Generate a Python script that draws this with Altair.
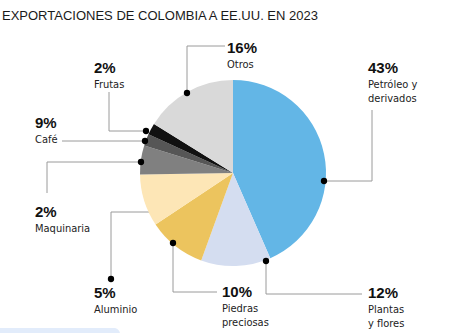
import altair as alt
import pandas as pd

W, H = 455, 333
NARROW = "DejaVu Sans Condensed, Liberation Sans Narrow, Liberation Sans"
REG = "Liberation Sans, Arial, sans-serif"

title_text = "EXPORTACIONES DE COLOMBIA A EE.UU. EN 2023"

# slices clockwise from 12 o'clock (shares)
slice_keys = ["petroleo", "plantas", "piedras", "crema", "gris", "gris_osc", "negro", "otros"]
slice_shares = [43, 12, 10, 9, 5, 2, 2, 16]
slice_colors = ["#63b6e6", "#d4ddf0", "#ecc45e", "#fde6b6", "#808080", "#565656", "#111111", "#d9d9d9"]

# labels
label_pct = ["16%", "43%", "12%", "10%", "5%", "2%", "9%", "2%"]
label_names = [["Otros"], ["Petróleo y", "derivados"], ["Plantas", "y flores"],
               ["Piedras", "preciosas"], ["Aluminio"], ["Maquinaria"], ["Café"], ["Frutas"]]

# layout (pixel-space annotation coordinates)
label_x = [227, 368, 368, 222, 94, 35, 35, 94]
label_y = [53, 73, 298, 297, 298, 217, 128, 73]
dot_x = [187, 324, 266, 173, 111, 141, 145, 146]
dot_y = [93, 181, 261, 243, 279, 162, 141, 131]
seg_x1 = [187, 187, 324, 372, 266, 266, 173, 173, 111, 111, 47, 47, 62, 109, 109]
seg_y1 = [93, 46, 181, 181, 261, 294, 243, 292, 279, 212, 193, 162, 141, 92, 131]
seg_x2 = [187, 225, 372, 372, 266, 362, 173, 217, 111, 150, 47, 141, 145, 109, 146]
seg_y2 = [46, 46, 181, 110, 294, 294, 292, 292, 212, 212, 162, 162, 141, 131, 131]
CX, CY, R = 233, 173, 93

xs = alt.Scale(domain=[0, W], nice=False, zero=False)
ys = alt.Scale(domain=[0, H], nice=False, zero=False, reverse=True)

pie_df = pd.DataFrame({"key": slice_keys, "share": slice_shares, "idx": list(range(len(slice_keys)))})
pie = alt.Chart(pie_df).mark_arc(outerRadius=R, stroke=None).encode(
    theta=alt.Theta("share:Q", stack=True),
    order=alt.Order("idx:Q"),
    color=alt.Color("key:N", scale=alt.Scale(domain=slice_keys, range=slice_colors), legend=None),
    x=alt.value(CX), y=alt.value(CY),
)

seg_df = pd.DataFrame({"x": seg_x1, "y": seg_y1, "x2": seg_x2, "y2": seg_y2})
rules = alt.Chart(seg_df).mark_rule(color="#9a9a9a", strokeWidth=1).encode(
    x=alt.X("x:Q", scale=xs, axis=None), y=alt.Y("y:Q", scale=ys, axis=None),
    x2="x2:Q", y2="y2:Q")

dot_df = pd.DataFrame({"x": dot_x, "y": dot_y})
dots = alt.Chart(dot_df).mark_circle(color="#000000", opacity=1, size=40).encode(
    x=alt.X("x:Q", scale=xs, axis=None), y=alt.Y("y:Q", scale=ys, axis=None))

pct_df = pd.DataFrame({"x": label_x, "y": label_y, "t": label_pct})
pct = alt.Chart(pct_df).mark_text(align="left", baseline="alphabetic", font=REG,
                                  fontWeight="bold", fontSize=15, color="#111111").encode(
    x=alt.X("x:Q", scale=xs, axis=None), y=alt.Y("y:Q", scale=ys, axis=None), text="t:N")

nx, ny, nt = [], [], []
for i, lines in enumerate(label_names):
    for j, ln in enumerate(lines):
        nx.append(label_x[i])
        ny.append(label_y[i] + 14.5 * (j + 1))
        nt.append(ln)
name_df = pd.DataFrame({"x": nx, "y": ny, "t": nt})
names = alt.Chart(name_df).mark_text(align="left", baseline="alphabetic", font=NARROW,
                                     fontSize=11, color="#222222").encode(
    x=alt.X("x:Q", scale=xs, axis=None), y=alt.Y("y:Q", scale=ys, axis=None), text="t:N")

title_df = pd.DataFrame({"x": [2], "y": [20], "t": [title_text]})
title = alt.Chart(title_df).mark_text(align="left", baseline="alphabetic", font=REG,
                                      fontSize=13, color="#1a1a1a").encode(
    x=alt.X("x:Q", scale=xs, axis=None), y=alt.Y("y:Q", scale=ys, axis=None), text="t:N")

box_df = pd.DataFrame({"x": [-10], "x2": [120], "y": [328], "y2": [345]})
box = alt.Chart(box_df).mark_rect(color="#e2ecfb", cornerRadius=6).encode(
    x=alt.X("x:Q", scale=xs, axis=None), x2="x2:Q",
    y=alt.Y("y:Q", scale=ys, axis=None), y2="y2:Q")

chart = alt.layer(box, rules, pie, dots, pct, names, title).properties(
    width=W, height=H, autosize="none", padding=0, background="white"
).configure_view(strokeWidth=0)

chart.save("out.html", embed_options={"renderer": "svg", "actions": False})
